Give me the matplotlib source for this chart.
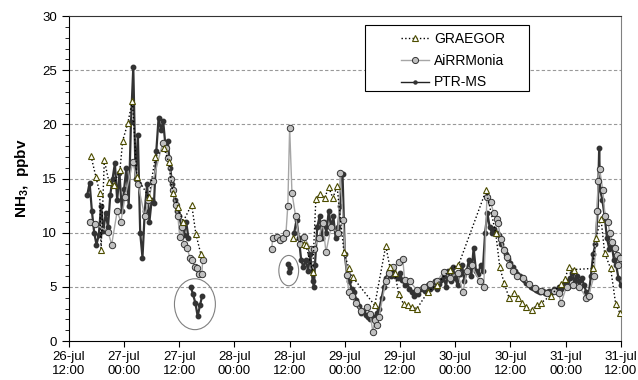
import numpy as np
import matplotlib
matplotlib.use('Agg')
import matplotlib.pyplot as plt
from matplotlib.patches import Ellipse, Rectangle
from matplotlib.lines import Line2D
from matplotlib.ticker import MultipleLocator

plt.rcParams['font.family'] = ['Liberation Sans', 'DejaVu Sans']
plt.rcParams['mathtext.fontset'] = 'custom'
plt.rcParams['mathtext.bf'] = 'Liberation Sans:bold'

# time in hours from 26-jul 12:00
tick_hours = [0, 12, 24, 36, 48, 60, 72, 84, 96, 108, 120]
tick_labels = ['26-jul\n12:00', '27-jul\n00:00', '27-jul\n12:00', '28-jul\n00:00',
               '28-jul\n12:00', '29-jul\n00:00', '29-jul\n12:00', '30-jul\n00:00',
               '30-jul\n12:00', '31-jul\n00:00', '31-jul\n12:00']

# GRAEGOR (hourly)
graegor_t = [4.8, 5.9, 6.7, 7.0, 7.7, 8.7, 9.7, 11.1, 11.7, 12.8, 13.8, 14.8, 17.4,
             18.8, 20.7, 21.7, 22.6, 23.7, 24.8, 26.7, 27.6, 28.7,
             np.nan,
             48.7, 51.1, 51.5, 53.0, 53.7, 54.6, 55.6, 56.5, 57.4, 58.3, 59.8, 60.9,
             61.7, 66.5, 68.9, 69.8, 70.9, 71.7, 72.8, 73.7, 74.6, 75.7, 78.0, 80.0,
             82.8, 84.7, 90.7, 92.8, 93.7, 94.6, 95.7, 96.7, 97.6, 98.6, 99.5, 100.6,
             101.7, 102.6, 104.8, 107.0, 107.8, 108.7, 109.8, 113.9, 114.6, 115.7,
             116.5, 117.8, 118.9, 119.8]
graegor_v = [17.1, 15.1, 13.7, 8.4, 16.7, 14.7, 14.4, 15.8, 18.5, 20.1, 22.2, 15.1, 13.3,
             17.0, 17.8, 16.5, 13.7, 12.4, 11.0, 12.6, 9.9, 8.0,
             np.nan,
             9.5, 9.0, 8.9, 6.4, 13.1, 13.6, 13.2, 14.2, 13.2, 14.3, 8.2, 6.7,
             5.9, 3.3, 8.8, 6.8, 6.3, 4.3, 3.4, 3.3, 3.1, 3.0, 4.5, 5.2,
             6.6, 7.0, 13.9, 10.0, 6.8, 5.4, 4.0, 4.4, 4.0, 3.5, 3.1, 2.9,
             3.3, 3.5, 4.2, 5.3, 5.7, 6.8, 6.6, 6.7, 9.5, 11.3,
             8.1, 6.7, 3.4, 2.6]

# AiRRMonia
airr_t = [4.6, 5.7, 8.5, 9.3, 10.5, 11.3, 12.2, 13.9, 15.0, 16.5, 17.3, 18.3, 20.4,
          21.1, 21.5, 22.2, 22.6, 23.2, 23.7, 24.1, 24.6, 25.0, 25.7, 26.3, 26.7,
          27.4, 27.8, 28.3, 28.9, 29.1,
          np.nan,
          44.1, 44.3, 45.2, 45.9, 46.5, 47.2, 47.6, 48.0, 48.5, 49.3, 50.2, 51.1,
          52.6, 53.2, 54.3, 55.2, 55.9, 57.0, 58.5, 59.0, 59.6, 60.4, 60.9, 61.5,
          62.4, 63.5, 64.8, 65.5, 66.1, 66.5, 67.0, 67.4, 68.9, 69.6, 70.5, 71.7,
          72.6, 73.0, 74.1, 75.7, 77.2, 78.5, 80.0, 81.5, 82.9, 84.5, 85.7, 86.5,
          87.6, 89.3, 90.2, 90.9, 91.7, 92.4, 93.0, 93.3, 93.9, 94.6, 95.2, 95.7,
          96.5, 97.4, 98.7, 100.0, 101.3, 102.6, 104.0, 105.4, 106.5, 107.0, 108.2,
          109.6, 111.0, 112.5, 113.0, 114.2, 114.8, 115.1, 115.4, 116.1, 116.6,
          117.2, 117.6, 118.2, 118.8, 119.2, 119.5, 119.9]
airr_v = [11.0, 10.8, 10.1, 8.9, 12.0, 11.0, 13.3, 16.5, 14.5, 11.5, 13.0, 14.8, 18.3,
          17.8, 16.9, 15.0, 13.9, 12.6, 11.5, 9.6, 10.5, 9.0, 8.6, 7.7, 7.5,
          6.8, 6.7, 6.2, 6.2, 7.5,
          np.nan,
          8.5, 9.5, 9.6, 9.3, 9.5, 10.0, 12.5, 19.7, 13.7, 11.5, 9.0, 9.6,
          8.5, 8.5, 9.5, 10.9, 8.2, 10.5, 10.0, 15.5, 11.2, 6.1, 4.5, 4.2,
          3.5, 2.8, 3.1, 2.5, 0.8, 1.9, 1.5, 2.2, 5.5, 6.3, 6.8, 7.3,
          7.6, 5.6, 5.5, 4.7, 5.0, 5.3, 5.5, 6.4, 5.8, 6.3, 4.5, 6.5,
          7.0, 5.5, 5.0, 13.3, 12.8, 11.8, 11.3, 10.9, 9.4, 8.4, 7.8, 7.0,
          6.5, 6.0, 5.8, 5.3, 4.9, 4.6, 4.4, 4.6, 4.4, 3.5, 5.0,
          5.2, 5.0, 4.0, 4.2, 6.0, 12.0, 14.8, 15.9, 13.9, 11.5,
          11.0, 10.0, 9.1, 8.6, 7.9, 7.0, 7.7]

# PTR-MS (half-hourly, with gaps)
ptr_t = [4.0, 4.5, 5.0, 5.5, 6.0, 6.5, 7.0, 7.5, 8.0, 8.5, 9.0, 9.5, 10.0, 10.5,
         11.0, 11.5, 12.0, 12.5, 13.0, 13.5, 14.0, 14.5, 15.0, 15.5, 16.0, 16.5,
         17.0, 17.5, 18.0, 18.5, 19.0, 19.5, 20.0, 20.5, 21.0, 21.5, 22.0, 22.5,
         23.0, 23.5, 24.0, 24.5, 25.0, 25.5, 26.0,
         np.nan,
         26.5, 27.0, 27.5, 28.0, 28.5, 29.0,
         np.nan,
         47.7, 47.9, 48.0,
         np.nan,
         49.0, 49.5, 50.0, 50.5, 51.0, 51.5, 52.0, 52.5, 53.0, 53.3, 53.5, 54.0,
         54.5, 55.0, 55.5, 56.0, 56.5, 57.0, 57.5, 58.0, 58.5, 59.0, 59.5, 60.0,
         60.5, 61.0, 61.5, 62.0, 62.5, 63.0, 63.5, 64.0, 64.5, 65.0, 65.5, 66.0,
         66.5, 67.0, 67.5, 68.0, 68.5, 69.0, 69.5, 70.0, 70.5, 71.0, 71.5, 72.0,
         72.5, 73.0, 73.5, 74.0, 74.5, 75.0, 75.5, 76.0, 76.5, 77.0, 77.5, 78.0,
         78.5, 79.0, 79.5, 80.0, 80.5, 81.0, 81.5, 82.0, 82.5, 83.0, 83.5, 84.0,
         84.5, 85.0, 85.5, 86.0, 86.5, 87.0, 87.5, 88.0, 88.5, 89.0, 89.5, 90.0,
         90.5, 91.0, 91.5, 92.0, 92.5, 93.0, 93.5, 94.0, 94.5, 95.0, 95.5, 96.0,
         96.5, 97.0, 97.5, 98.0, 98.5, 99.0, 99.5, 100.0, 100.5, 101.0, 101.5,
         102.0, 102.5, 103.0, 103.5, 104.0, 104.5, 105.0, 105.5, 106.0, 106.5,
         107.0, 107.5, 108.0, 108.5, 109.0, 109.5, 110.0, 110.5, 111.0, 111.5,
         112.0, 112.5, 113.0, 113.5, 114.0, 114.5, 115.0, 115.3, 115.5, 116.0,
         116.5, 117.0, 117.5, 118.0, 118.5, 119.0, 119.5, 120.0]
ptr_v = [13.5, 14.6, 12.0, 10.0, 8.9, 9.8, 12.5, 10.2, 11.8, 10.5, 13.5, 15.0, 16.4, 13.0,
         15.5, 12.0, 14.0, 16.0, 12.5, 20.2, 25.3, 15.0, 19.0, 10.0, 7.7, 12.0,
         14.5, 11.0, 13.0, 12.7, 17.5, 20.6, 19.5, 20.3, 18.0, 18.5, 16.0, 14.5,
         13.0, 12.0, 11.5, 10.5, 9.8, 11.0, 9.5,
         np.nan,
         5.0, 4.3, 3.5, 2.3, 3.3, 4.2,
         np.nan,
         7.1, 6.4, 6.7,
         np.nan,
         10.0, 11.2, 9.5, 7.5, 6.8, 7.5, 6.5, 8.0, 5.5, 5.0, 7.0, 10.5,
         11.5, 9.5, 11.0, 10.0, 12.0, 10.5, 11.5, 9.5, 10.5, 12.5, 15.4, 8.0,
         6.0, 5.5, 4.8, 4.5, 3.8, 3.2, 2.6, 2.8, 2.4, 2.2, 2.0, 2.3,
         2.1, 2.6, 3.0, 4.0, 5.0, 5.8, 6.5, 6.0, 6.6, 6.0, 5.8, 6.3,
         5.6, 5.2, 5.5, 4.8, 4.5, 4.2, 4.6, 4.3, 4.8, 5.0, 4.6, 5.2,
         4.8, 5.0, 5.5, 4.8, 5.3, 5.6, 6.0, 5.0, 6.5, 5.5, 6.8, 5.8,
         5.2, 6.2, 7.0, 5.5, 6.5, 7.5, 6.0, 8.6, 6.5, 6.2, 7.0, 6.5,
         10.0, 11.8, 10.5, 10.0, 10.3, 10.0, 9.8, 9.0, 8.5, 8.0, 7.6, 7.2,
         6.8, 6.5, 6.2, 6.0, 5.8, 5.6, 5.4, 5.3, 5.0, 4.9, 4.7,
         4.6, 4.5, 4.6, 4.4, 4.5, 4.6, 4.5, 4.8, 4.6, 5.0,
         4.8, 5.2, 5.5, 5.0, 5.8, 6.3, 5.5, 6.0, 5.5, 5.8,
         5.2, 4.5, 4.2, 6.0, 8.0, 9.0, 12.0, 17.8, 14.0, 13.0,
         11.5, 9.5, 8.5, 9.0, 7.5, 7.0, 5.8, 5.2]

fig = plt.figure(figsize=(6.38, 3.80), dpi=100)
ax = fig.add_axes([0.108, 0.1026, 0.865, 0.855])

ax.plot(ptr_t, ptr_v, '-', color='#333333', lw=1.6, marker='o', ms=3.2,
        mfc='#333333', mec='#333333', zorder=3)
ax.plot(airr_t, airr_v, '-', color='#a6a6a6', lw=1.0, marker='o', ms=4.6,
        mfc='#c0c0c0', mec='#333333', mew=0.7, zorder=4)
ax.plot(graegor_t, graegor_v, ':', color='black', lw=1.0, marker='^', ms=5.0,
        mfc='white', mec='#4d4d00', mew=0.8, zorder=5)

# circled PTR-MS periods
ax.add_patch(Ellipse((27.4, 3.4), 8.9, 4.7, fill=False, ec='#808080', lw=0.8, zorder=6))
ax.add_patch(Ellipse((47.8, 6.5), 4.3, 2.8, fill=False, ec='#808080', lw=0.8, zorder=6))

ax.set_xlim(0, 120)
ax.set_ylim(0, 30)
ax.set_xticks(tick_hours)
ax.set_xticklabels(tick_labels, fontsize=9.5)
ax.yaxis.set_major_locator(MultipleLocator(5))
ax.yaxis.set_minor_locator(MultipleLocator(1))
ax.tick_params(axis='y', labelsize=9.5, length=5, direction='out')
ax.tick_params(axis='y', which='minor', length=3)
ax.tick_params(axis='x', length=4, direction='out')

for yv in [5, 10, 15, 20, 25]:
    ax.axhline(yv, color='#999999', lw=0.8, ls=(0, (3, 2)), zorder=1)

ax.spines['top'].set_color('#333333')
ax.spines['right'].set_color('#808080')

ax.set_ylabel(r'NH$_\mathbf{3}$,  ppbv', fontsize=11, fontweight='bold', labelpad=8)

# legend entries (thin handles as in the original), box drawn separately
h_gr = Line2D([], [], ls=':', color='black', lw=1.0, marker='^', ms=5.0,
              mfc='white', mec='#4d4d00', mew=0.8)
h_airr = Line2D([], [], ls='-', color='#a6a6a6', lw=1.0, marker='o', ms=4.4,
                mfc='#c0c0c0', mec='#333333', mew=0.7)
h_ptr = Line2D([], [], ls='-', color='#222222', lw=1.0, marker='o', ms=2.2,
               mfc='#333333', mec='#333333')
leg = ax.legend([h_gr, h_airr, h_ptr], ['GRAEGOR', 'AiRRMonia', 'PTR-MS'],
                loc='upper left', bbox_to_anchor=(0.589, 0.972),
                fontsize=10, frameon=False, numpoints=1, handlelength=2.0,
                borderpad=0, labelspacing=0.55, handletextpad=0.4)
ax.add_patch(Rectangle((0.536, 0.769), 0.297, 0.203, transform=ax.transAxes, fill=True,
                       fc='white', ec='black', lw=0.8, zorder=6))
leg.set_zorder(7)

plt.savefig('out.png', dpi=100)
